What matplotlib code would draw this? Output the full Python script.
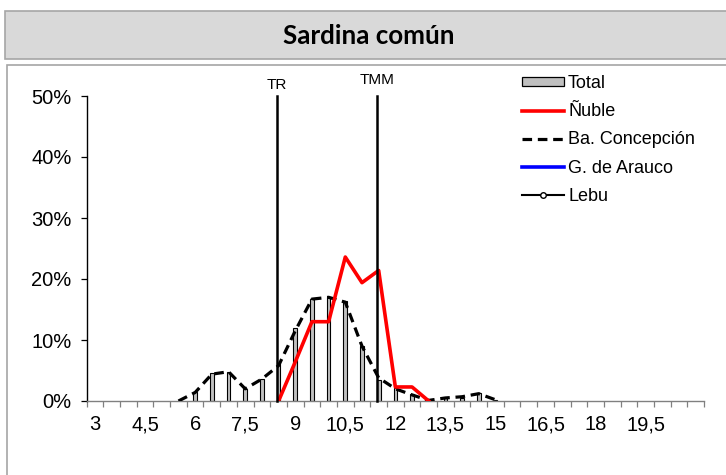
import numpy as np
import matplotlib.pyplot as plt
from matplotlib.patches import Rectangle, Patch
from matplotlib.lines import Line2D

# length classes (cm), one category each
lengths = [3, 3.5, 4, 4.5, 5, 5.5, 6, 6.5, 7, 7.5, 8, 8.5, 9, 9.5, 10, 10.5,
           11, 11.5, 12, 12.5, 13, 13.5, 14, 14.5, 15, 15.5, 16, 16.5, 17,
           17.5, 18, 18.5, 19, 19.5, 20, 20.5, 21]
nan = np.nan
# percentages
total = [nan, nan, nan, nan, nan, nan, 1.4, 4.6, 4.8, 2.0, 3.6, 6.2, 11.9,
         16.7, 17.0, 16.4, 9.0, 3.4, 2.1, 1.1, 0.2, 0.5, 0.5, 1.3, 0.1,
         nan, nan, nan, nan, nan, nan, nan, nan, nan, nan, nan, nan]
nuble = [nan, nan, nan, nan, nan, nan, nan, nan, nan, nan, nan, 0.0, 6.4,
         13.0, 13.0, 23.6, 19.4, 21.4, 2.3, 2.3, 0.0, nan, nan, nan, nan,
         nan, nan, nan, nan, nan, nan, nan, nan, nan, nan, nan, nan]
concepcion = [nan, nan, nan, nan, nan, 0.0, 1.4, 4.4, 4.8, 2.0, 3.6, 5.8,
              11.5, 16.7, 17.0, 16.2, 9.0, 3.8, 2.0, 1.0, 0.1, 0.5, 0.7, 1.2,
              0.2, nan, nan, nan, nan, nan, nan, nan, nan, nan, nan, nan, nan]
tr = 8.45
tmm = 11.45
tick_labels = ["3", "4,5", "6", "7,5", "9", "10,5", "12", "13,5", "15",
               "16,5", "18", "19,5"]

plt.rcParams['font.family'] = ['Liberation Sans', 'DejaVu Sans']

W, H = 726, 475
fig = plt.figure(figsize=(W / 100, H / 100), dpi=100)

# title band and chart frame
fig.patches.append(Rectangle((5 / W, 1 - 59 / H), 1.0, 48 / H, transform=fig.transFigure,
                             facecolor="#d9d9d9", edgecolor="#a6a6a6", lw=1.2, zorder=0))
fig.patches.append(Rectangle((7 / W, -0.1), 1.0, 1.1 - 65 / H, transform=fig.transFigure,
                             facecolor="white", edgecolor="#a6a6a6", lw=1.2, zorder=0))
fig.text(369 / W, 1 - 36 / H, "Sardina común", ha="center", va="center",
         fontsize=18.7, fontweight="bold", family=["Lato", "DejaVu Sans"])

ax = fig.add_axes([86.7 / W, 1 - 401 / H, (704 - 86.7) / W, (401 - 96) / H])
ax.set_zorder(2)
ax.patch.set_alpha(0)

x = np.arange(len(lengths))
ax.bar(x, total, width=0.22, color="#c0c0c0", edgecolor="black", lw=0.8, zorder=2)
ax.plot(x, concepcion, color="black", lw=2.3, dashes=(3.0, 1.8), zorder=3)
ax.plot(x, nuble, color="#ff0000", lw=2.6, zorder=4)


def to_idx(v):
    return (v - lengths[0]) / (lengths[1] - lengths[0])


for val, lab, dy in [(tr, "TR", 1.8), (tmm, "TMM", 2.6)]:
    ax.plot([to_idx(val)] * 2, [0, 50], color="black", lw=1.8, zorder=5, clip_on=False)
    ax.text(to_idx(val), 50 + dy, lab, ha="center", va="center", fontsize=11)

ax.set_xlim(-0.5, len(lengths) - 0.5)
ax.set_ylim(0, 50)
ax.set_xticks(x[::3][:len(tick_labels)])
ax.set_xticklabels(tick_labels, va="baseline")
ax.set_xticks(np.arange(-0.5, len(lengths)), minor=True)
ax.tick_params(axis="x", which="major", length=0, pad=21, labelsize=14.5)
ax.tick_params(axis="x", which="minor", length=4, color="#808080", width=0.9)
ax.set_yticks(range(0, 51, 10))
ax.set_yticklabels([f"{v}%" for v in range(0, 51, 10)])
ax.tick_params(axis="y", length=4, width=0.9, pad=7, labelsize=14.5)
for s in ["top", "right"]:
    ax.spines[s].set_visible(False)
ax.spines["left"].set_linewidth(1.0)
ax.spines["bottom"].set_color("#808080")
ax.spines["bottom"].set_linewidth(1.0)

handles = [
    Patch(facecolor="#c0c0c0", edgecolor="black", lw=0.9),
    Line2D([], [], color="#ff0000", lw=2.6),
    Line2D([], [], color="black", lw=2.3, dashes=(3.0, 1.8)),
    Line2D([], [], color="#0000ff", lw=2.6),
    Line2D([], [], color="black", lw=1.5, marker="o", markersize=4,
           markerfacecolor="white", markeredgecolor="black"),
]
labels = ["Total", "Ñuble", "Ba. Concepción", "G. de Arauco", "Lebu"]
leg = fig.legend(handles, labels, loc="upper left", bbox_to_anchor=(522 / W, 1 - 75 / H),
                 frameon=False, fontsize=13, handlelength=2.3, handleheight=0.45,
                 handletextpad=0.25, labelspacing=0.62, borderpad=0, borderaxespad=0,
                 numpoints=1)
leg.set_zorder(3)

fig.savefig("out.png", dpi=100)
